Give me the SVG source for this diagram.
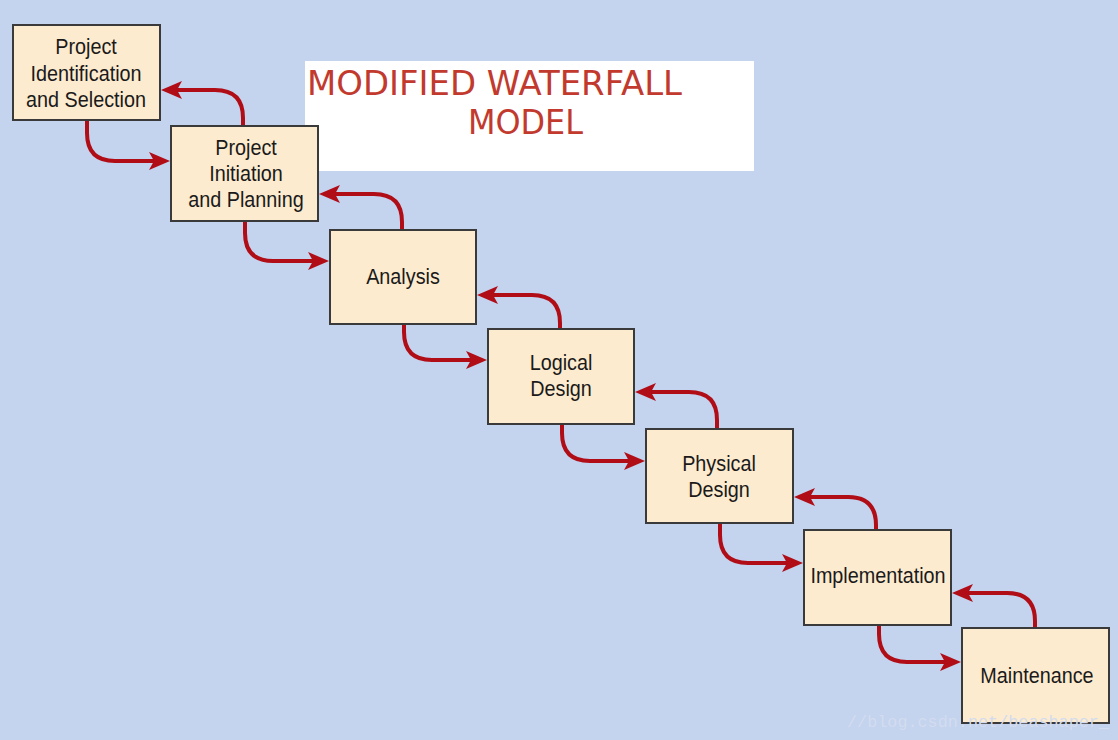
<svg xmlns="http://www.w3.org/2000/svg" width="1118" height="740" viewBox="0 0 1118 740">
<style>
.box{fill:#fdebcf;stroke:#3a3a3a;stroke-width:2}
.lbl{font-family:"Liberation Sans",Arial,sans-serif;font-size:22px;fill:#1a1a1a;text-anchor:middle}
.arr{fill:none;stroke:#b00d16;stroke-width:4;marker-end:url(#ah)}
.title{font-family:"DejaVu Sans",Verdana,sans-serif;font-size:33px;fill:#c23a2e}
.wm{font-family:"Liberation Mono","DejaVu Sans Mono",monospace;font-size:17px;fill:#d3dcee}
</style>
<defs>
<marker id="ah" markerUnits="userSpaceOnUse" viewBox="-2 -11 25 22" markerWidth="25" markerHeight="22" refX="5" refY="0" orient="auto">
<path d="M0,-9 L21,0 L0,9 L5,0 Z" fill="#b00d16"/>
</marker>
</defs>
<rect width="1118" height="740" fill="#c4d3ee"/>
<g id="title">
<rect x="305" y="61" width="449" height="110" fill="#ffffff"/>
<text class="title" x="307" y="95" textLength="375" lengthAdjust="spacingAndGlyphs">MODIFIED WATERFALL</text>
<text class="title" x="468" y="134" textLength="115" lengthAdjust="spacingAndGlyphs">MODEL</text>
</g>
<g id="connectors">
<path class="arr" d="M87,120 V133 Q87,161 115,161 H154"/>
<path class="arr" d="M243,126 V118 Q243,90 215,90 H177"/>
<path class="arr" d="M245,221 V233 Q245,261 273,261 H313"/>
<path class="arr" d="M402,230 V222 Q402,194 374,194 H335"/>
<path class="arr" d="M404,324 V332 Q404,360 432,360 H471"/>
<path class="arr" d="M560,329 V323 Q560,295 532,295 H493"/>
<path class="arr" d="M562,424 V433 Q562,461 590,461 H629"/>
<path class="arr" d="M717,429 V420 Q717,392 689,392 H651"/>
<path class="arr" d="M720,523 V535 Q720,563 748,563 H787"/>
<path class="arr" d="M876,530 V525 Q876,497 848,497 H810"/>
<path class="arr" d="M879,625 V634 Q879,662 907,662 H945"/>
<path class="arr" d="M1035,628 V621 Q1035,593 1007,593 H968"/>
</g>
<g id="n1"><rect class="box" x="13" y="25" width="147" height="95"/>
<g transform="translate(86,0) scale(0.9,1)"><text class="lbl" x="0" y="54">Project</text><text class="lbl" x="0" y="81">Identification</text><text class="lbl" x="0" y="107">and Selection</text></g></g>
<g id="n2"><rect class="box" x="171" y="126" width="147" height="95"/>
<g transform="translate(246,0) scale(0.9,1)"><text class="lbl" x="0" y="155">Project</text><text class="lbl" x="0" y="181">Initiation</text><text class="lbl" x="0" y="207">and Planning</text></g></g>
<g id="n3"><rect class="box" x="330" y="230" width="146" height="94"/>
<g transform="translate(403,0) scale(0.9,1)"><text class="lbl" x="0" y="284">Analysis</text></g></g>
<g id="n4"><rect class="box" x="488" y="329" width="146" height="95"/>
<g transform="translate(561,0) scale(0.9,1)"><text class="lbl" x="0" y="370">Logical</text><text class="lbl" x="0" y="396">Design</text></g></g>
<g id="n5"><rect class="box" x="646" y="429" width="147" height="94"/>
<g transform="translate(719,0) scale(0.9,1)"><text class="lbl" x="0" y="471">Physical</text><text class="lbl" x="0" y="497">Design</text></g></g>
<g id="n6"><rect class="box" x="804" y="530" width="147" height="95"/>
<g transform="translate(878,0) scale(0.9,1)"><text class="lbl" x="0" y="583">Implementation</text></g></g>
<g id="n7"><rect class="box" x="962" y="628" width="147" height="95"/>
<g transform="translate(1037,0) scale(0.9,1)"><text class="lbl" x="0" y="683">Maintenance</text></g></g>
<text class="wm" x="847" y="727" textLength="262" lengthAdjust="spacingAndGlyphs">//blog.csdn.net/beashaper_</text>
</svg>
